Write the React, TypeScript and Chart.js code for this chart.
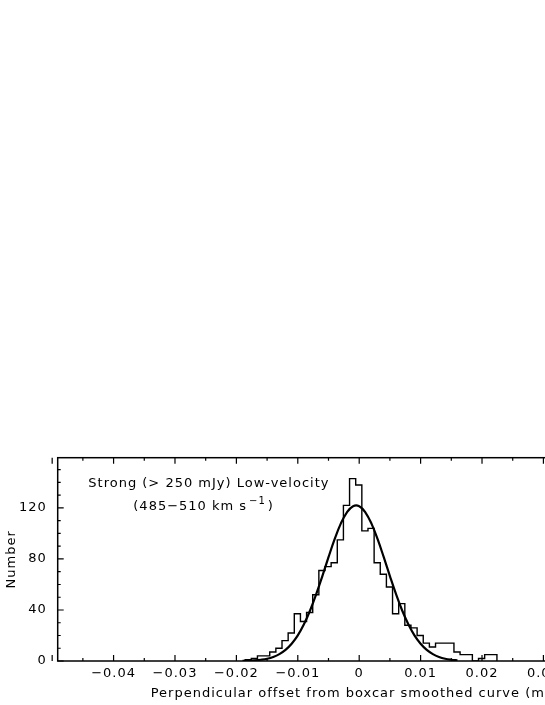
import React, { useEffect, useRef } from "react";
import { Chart, registerables } from "chart.js";

Chart.register(...registerables);

// ---- data ----
const binStart = -0.01857; // left edge of first non-empty bin
const binWidth = 0.001;
const binCounts = [
  1, 2, 4, 4, 7, 10, 16, 22, 37, 31, 38, 52, 71, 74, 77, 95, 122, 143, 138,
  102, 104, 77, 68, 58, 37, 45, 28, 26, 20, 14, 11, 14, 14, 14, 7, 5, 5, 0, 2,
  5, 5,
];

const curveX = [
  -0.019, -0.018, -0.017, -0.016, -0.015, -0.014, -0.013, -0.012, -0.011,
  -0.01, -0.009, -0.008, -0.007, -0.006, -0.005, -0.004, -0.003, -0.002,
  -0.001, 0.0, 0.001, 0.002, 0.003, 0.004, 0.005, 0.006, 0.007, 0.008, 0.009,
  0.01, 0.011, 0.012, 0.013, 0.014, 0.015, 0.016,
];
const curveY = [
  0.1, 0.3, 0.5, 1.0, 1.8, 3.2, 5.4, 8.7, 13.5, 20.1, 28.8, 39.6, 52.4, 66.6,
  81.4, 95.5, 107.7, 116.6, 121.4, 121.4, 116.6, 107.7, 95.5, 81.4, 66.6,
  52.4, 39.6, 28.8, 20.1, 13.5, 8.7, 5.4, 3.2, 1.8, 1.0, 0.5,
];

const xMin = -0.0491;
const xMax = 0.0491;
const xTickValues = [-0.04, -0.03, -0.02, -0.01, 0, 0.01, 0.02, 0.03, 0.04];
const xMinorStep = 0.005;
const yMin = 0;
const yMax = 159.4;
const yTickValues = [0, 40, 80, 120];
const yStep = 40;
const yMinorStep = 10;

const xAxisTitle = "Perpendicular offset from boxcar smoothed curve (mas)";
const yAxisTitle = "Number";
const noteLine1 = "Strong (> 250 mJy) Low-velocity";
const noteLine2Main = "(485\u2212510 km s";
const noteLine2Sup = "\u22121";
const noteLine2End = ")";

const FONT = '"DejaVu Sans", "Liberation Sans", sans-serif';
const CANVAS_W = 720;
const CANVAS_H = 705;

const framePlugin = {
  id: "pgframe",
  beforeDraw(chart: any) {
    try {
      chart.ctx.letterSpacing = "1px";
    } catch (e) {}
  },
  afterDatasetsDraw(chart: any) {
    const { ctx, chartArea: a, scales } = chart;
    const xs = scales.x;
    const ys = scales.y;
    ctx.save();
    ctx.strokeStyle = "#000";
    ctx.lineWidth = 1.5;
    ctx.strokeRect(a.left, a.top, a.right - a.left, a.bottom - a.top);
    ctx.lineWidth = 1.2;
    ctx.beginPath();
    const nx = Math.round(xMax / xMinorStep);
    for (let i = -nx; i <= nx; i++) {
      const px = xs.getPixelForValue(i * xMinorStep);
      const len = i % 2 === 0 ? 6 : 3;
      ctx.moveTo(px, a.bottom);
      ctx.lineTo(px, a.bottom - len);
      ctx.moveTo(px, a.top);
      ctx.lineTo(px, a.top + len);
    }
    const ny = Math.floor(yMax / yMinorStep);
    for (let i = 0; i <= ny; i++) {
      const v = i * yMinorStep;
      const py = ys.getPixelForValue(v);
      const len = v % yStep === 0 ? 6 : 3;
      ctx.moveTo(a.left, py);
      ctx.lineTo(a.left + len, py);
      ctx.moveTo(a.right, py);
      ctx.lineTo(a.right - len, py);
    }
    ctx.stroke();

    // annotation text
    ctx.fillStyle = "#000";
    ctx.textAlign = "left";
    ctx.textBaseline = "alphabetic";
    ctx.font = `13px ${FONT}`;
    ctx.fillText(noteLine1, a.left + 30.6, a.top + 29);
    const x2 = a.left + 75.6;
    const y2 = a.top + 52.3;
    ctx.fillText(noteLine2Main, x2, y2);
    const w1 = ctx.measureText(noteLine2Main).width;
    ctx.font = `10px ${FONT}`;
    ctx.fillText(noteLine2Sup, x2 + w1 + 2, y2 - 6);
    const w2 = ctx.measureText(noteLine2Sup).width;
    ctx.font = `13px ${FONT}`;
    ctx.fillText(noteLine2End, x2 + w1 + 2 + w2 + 2, y2);
    ctx.restore();
  },
};

function fmtX(v: number): string {
  if (Math.abs(v) < 1e-9) return "0";
  return v.toFixed(2).replace("-", "\u2212");
}

export default function App() {
  const canvasRef = useRef<HTMLCanvasElement | null>(null);

  useEffect(() => {
    const canvas = canvasRef.current;
    if (!canvas) return;

    const histPoints: { x: number; y: number }[] = [{ x: binStart, y: 0 }];
    binCounts.forEach((c, i) => histPoints.push({ x: binStart + i * binWidth, y: c }));
    histPoints.push({ x: binStart + binCounts.length * binWidth, y: 0 });

    const curvePoints = curveX.map((x, i) => ({ x, y: curveY[i] }));

    Chart.defaults.font.family = FONT;
    Chart.defaults.color = "#000";

    const chart = new Chart(canvas, {
      type: "line",
      data: {
        datasets: [
          {
            data: histPoints,
            borderColor: "#000",
            borderWidth: 1.4,
            stepped: true,
            pointRadius: 0,
            fill: false,
          },
          {
            data: curvePoints,
            borderColor: "#000",
            borderWidth: 2.2,
            tension: 0.4,
            pointRadius: 0,
            fill: false,
          },
        ],
      },
      options: {
        responsive: false,
        animation: false,
        devicePixelRatio: 1,
        layout: {
          padding: { left: 0, right: CANVAS_W - 660.7, top: 457.7, bottom: 3.7 },
        },
        plugins: {
          legend: { display: false },
          tooltip: { enabled: false },
        },
        scales: {
          x: {
            type: "linear",
            min: xMin,
            max: xMax,
            grid: { display: false, drawTicks: false },
            border: { display: false },
            afterBuildTicks: (s: any) => {
              s.ticks = xTickValues.map((v) => ({ value: v }));
            },
            ticks: {
              padding: 5,
              color: "#000",
              maxRotation: 0,
              autoSkip: false,
              font: { family: FONT, size: 13 },
              callback: (v: any) => fmtX(Number(v)),
            },
            title: {
              display: true,
              text: xAxisTitle,
              color: "#000",
              font: { family: FONT, size: 13 },
              padding: { top: 0, bottom: 0 },
            },
            afterFit: (s: any) => {
              s.height = 40.3;
            },
          },
          y: {
            type: "linear",
            min: yMin,
            max: yMax,
            grid: { display: false, drawTicks: false },
            border: { display: false },
            afterBuildTicks: (s: any) => {
              s.ticks = yTickValues.map((v) => ({ value: v }));
            },
            ticks: {
              padding: 11,
              color: "#000",
              autoSkip: false,
              font: { family: FONT, size: 13 },
              callback: (v: any) => String(v),
            },
            title: {
              display: true,
              text: yAxisTitle,
              color: "#000",
              font: { family: FONT, size: 13 },
              padding: { top: 4, bottom: 0 },
            },
            afterFit: (s: any) => {
              s.width = 57.7;
            },
          },
        },
      } as any,
      plugins: [framePlugin],
    });

    return () => chart.destroy();
  }, []);

  return (
    <div
      style={{
        position: "absolute",
        left: 0,
        top: 0,
        width: 545,
        height: 705,
        overflow: "hidden",
        background: "#fff",
      }}
    >
      <canvas
        ref={canvasRef}
        width={CANVAS_W}
        height={CANVAS_H}
        style={{ display: "block", width: CANVAS_W, height: CANVAS_H }}
      />
    </div>
  );
}
